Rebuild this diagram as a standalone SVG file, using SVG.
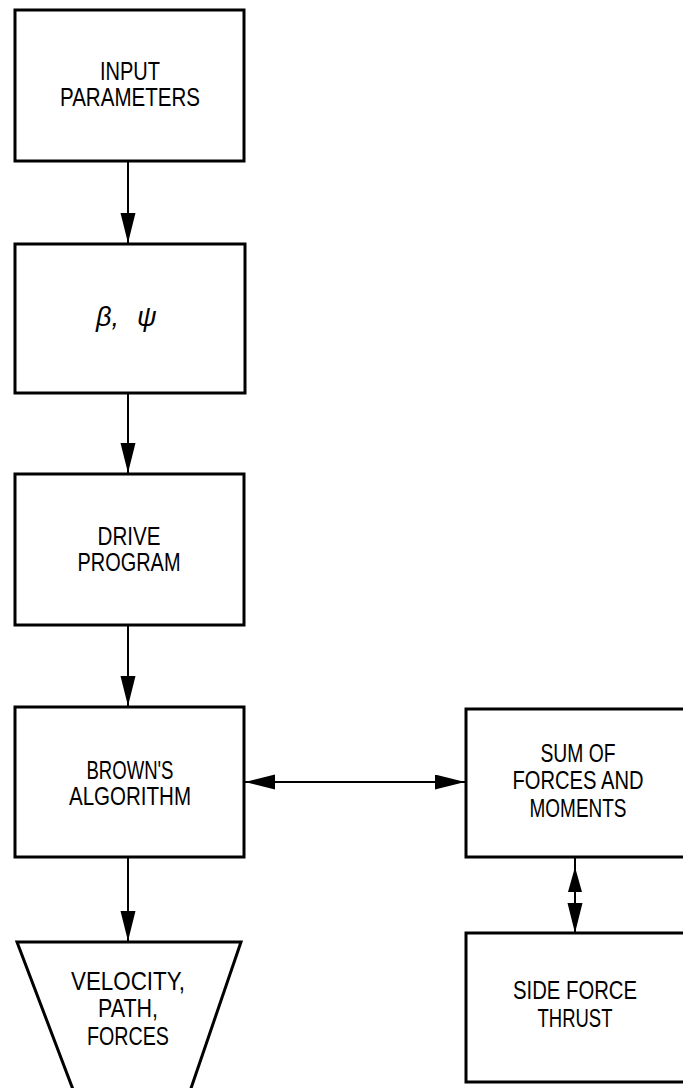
<svg xmlns="http://www.w3.org/2000/svg" width="683" height="1088" viewBox="0 0 683 1088">
  <style>
    .box { fill: #fff; stroke: #000; stroke-width: 3; }
    .lbl { font-family: "Liberation Sans", Arial, sans-serif; font-size: 25px; fill: #000; text-anchor: middle; }
    .sym { font-family: "Liberation Sans", Arial, sans-serif; font-size: 27px; font-style: italic; fill: #000; }
    .wire { fill: none; stroke: #000; stroke-width: 2; }
  </style>
  <defs>
    <marker id="head" markerUnits="userSpaceOnUse" markerWidth="32" markerHeight="16" refX="30" refY="7.5" orient="auto-start-reverse">
      <path d="M0,0 L30,7.5 L0,15 z" fill="#000"/>
    </marker>
    <marker id="headShort" markerUnits="userSpaceOnUse" markerWidth="27" markerHeight="16" refX="25" refY="7" orient="auto-start-reverse">
      <path d="M0,0 L25,7 L0,14 z" fill="#000"/>
    </marker>
  </defs>
  <rect width="683" height="1088" fill="#fff"/>

  <g id="connectors">
    <path class="wire" d="M128,161 V243" marker-end="url(#head)"/>
    <path class="wire" d="M128,393 V473" marker-end="url(#head)"/>
    <path class="wire" d="M128,625 V706" marker-end="url(#head)"/>
    <path class="wire" d="M128,857 V941" marker-end="url(#head)"/>
    <path class="wire" d="M245,782 H465" marker-start="url(#head)" marker-end="url(#head)"/>
    <path class="wire" d="M575,857 V867"/>
    <path class="wire" d="M575,867 V933" marker-start="url(#headShort)" marker-end="url(#head)"/>
  </g>

  <g id="input-parameters">
    <rect class="box" x="15" y="10" width="229" height="151"/>
    <text class="lbl" x="130" y="80" textLength="60" lengthAdjust="spacingAndGlyphs">INPUT</text>
    <text class="lbl" x="130" y="106" textLength="140" lengthAdjust="spacingAndGlyphs">PARAMETERS</text>
  </g>

  <g id="beta-psi">
    <rect class="box" x="15" y="244" width="230" height="149"/>
    <text class="sym" x="96" y="326">β,</text>
    <text class="sym" x="137" y="326">ψ</text>
  </g>

  <g id="drive-program">
    <rect class="box" x="15" y="474" width="229" height="151"/>
    <text class="lbl" x="129" y="545" textLength="63" lengthAdjust="spacingAndGlyphs">DRIVE</text>
    <text class="lbl" x="129" y="571" textLength="103" lengthAdjust="spacingAndGlyphs">PROGRAM</text>
  </g>

  <g id="browns-algorithm">
    <rect class="box" x="15" y="707" width="229" height="150"/>
    <text class="lbl" x="130" y="779" textLength="87" lengthAdjust="spacingAndGlyphs">BROWN'S</text>
    <text class="lbl" x="130" y="805" textLength="122" lengthAdjust="spacingAndGlyphs">ALGORITHM</text>
  </g>

  <g id="sum-of-forces">
    <rect class="box" x="466" y="709" width="240" height="148"/>
    <text class="lbl" x="578" y="762" textLength="75" lengthAdjust="spacingAndGlyphs">SUM OF</text>
    <text class="lbl" x="578" y="789" textLength="131" lengthAdjust="spacingAndGlyphs">FORCES AND</text>
    <text class="lbl" x="578" y="817" textLength="97" lengthAdjust="spacingAndGlyphs">MOMENTS</text>
  </g>

  <g id="side-force-thrust">
    <rect class="box" x="466" y="933" width="240" height="149"/>
    <text class="lbl" x="575" y="999" textLength="124" lengthAdjust="spacingAndGlyphs">SIDE FORCE</text>
    <text class="lbl" x="575" y="1027" textLength="75" lengthAdjust="spacingAndGlyphs">THRUST</text>
  </g>

  <g id="velocity-path-forces">
    <path class="box" d="M17,942 H241 L187,1100 H77 Z"/>
    <text class="lbl" x="128" y="990" textLength="114" lengthAdjust="spacingAndGlyphs">VELOCITY,</text>
    <text class="lbl" x="128" y="1017" textLength="60" lengthAdjust="spacingAndGlyphs">PATH,</text>
    <text class="lbl" x="128" y="1045" textLength="82" lengthAdjust="spacingAndGlyphs">FORCES</text>
  </g>
</svg>
